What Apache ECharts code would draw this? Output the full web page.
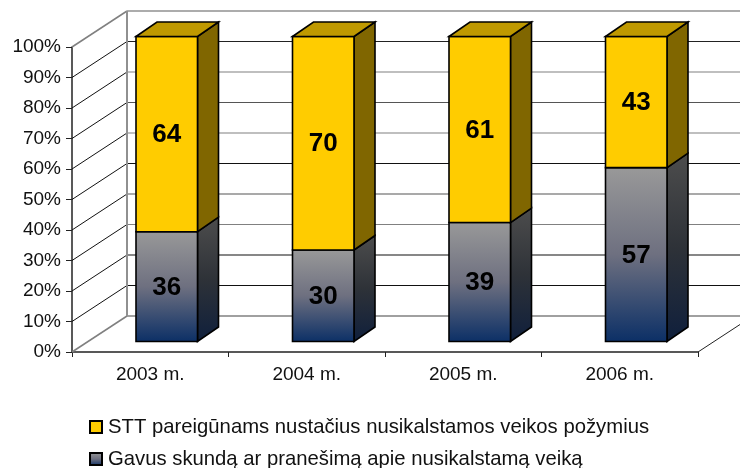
<!DOCTYPE html>
<html>
<head>
<meta charset="utf-8">
<style>html,body{margin:0;padding:0;background:#fff}#c{width:740px;height:468px}</style>
<script src="https://cdn.jsdelivr.net/npm/echarts@6/dist/echarts.min.js"></script>
</head>
<body>
<div id="c"></div>
<script>
const categories = ['2003 m.', '2004 m.', '2005 m.', '2006 m.'];
const complaints = [36, 30, 39, 57];
const officers = [64, 70, 61, 43];
const yTicks = [0, 10, 20, 30, 40, 50, 60, 70, 80, 90, 100];
const wallLineColors = ['#808080', '#111111', '#111111', '#808080', '#555555', '#111111', '#808080', '#555555', '#808080', '#222222', '#909090'];
const nameOfficers = 'STT pareigūnams nustačius nusikalstamos veikos požymius';
const nameComplaints = 'Gavus skundą ar pranešimą apie nusikalstamą veiką';

const font = '"Liberation Sans", Arial, sans-serif';
const WALL_DX = 55, WALL_DY = -36;
const BAR_DX = 16.5, BAR_DY = -10.5, BAR_W = 61.5, SIDE_DX = 21, SIDE_DY = -14.5;

const grad = (a, m, b) => ({ type: 'linear', x: 0, y: 0, x2: 0, y2: 1, colorStops: [{ offset: 0, color: a }, { offset: 0.5, color: m }, { offset: 1, color: b }] });
const outline = { stroke: '#000', lineWidth: 1.6, lineJoin: 'miter' };

function barRender(front, side, top) {
  return function (params, api) {
    const i = api.value(0), lo = api.value(1), hi = api.value(2);
    const pLo = api.coord([i, lo]), pHi = api.coord([i, hi]);
    const x0 = pLo[0] + BAR_DX - BAR_W / 2, x1 = x0 + BAR_W;
    const yB = pLo[1] + BAR_DY, yT = pHi[1] + BAR_DY;
    const children = [
      { type: 'polygon', shape: { points: [[x1, yT], [x1 + SIDE_DX, yT + SIDE_DY], [x1 + SIDE_DX, yB + SIDE_DY], [x1, yB]] }, style: Object.assign({ fill: side }, outline) },
      { type: 'rect', shape: { x: x0, y: yT, width: BAR_W, height: yB - yT }, style: Object.assign({ fill: front }, outline) }
    ];
    if (top) {
      children.push({ type: 'polygon', shape: { points: [[x0, yT], [x0 + SIDE_DX, yT + SIDE_DY], [x1 + SIDE_DX, yT + SIDE_DY], [x1, yT]] }, style: Object.assign({ fill: top }, outline) });
    }
    children.push({
      type: 'text',
      style: { x: (x0 + x1) / 2, y: (yT + yB) / 2 + 1, text: String(hi - lo), align: 'center', verticalAlign: 'middle', fill: '#000', font: 'bold 26px ' + font }
    });
    return { type: 'group', children: children };
  };
}

function wallRender(params, api) {
  const v = api.value(1);
  const p = api.coord([0, v]);
  const c = params.coordSys;
  const xF = c.x, yF = p[1], xB = xF + WALL_DX, yB = yF + WALL_DY;
  const col = wallLineColors[params.dataIndex];
  const edge = v === 0 || v === 100;
  return {
    type: 'group',
    children: [
      { type: 'line', shape: { x1: xF, y1: yF, x2: xB, y2: yB }, style: { stroke: edge ? '#808080' : '#111', lineWidth: edge ? 1.5 : 1 } },
      { type: 'line', shape: { x1: xB, y1: yB, x2: 760, y2: yB }, style: { stroke: col, lineWidth: edge ? 1.6 : 1.2 } }
    ]
  };
}

function frameRender(params, api) {
  const c = params.coordSys;
  const yTop = api.coord([0, 100])[1], yBot = api.coord([0, 0])[1];
  const xB = c.x + WALL_DX, xR = c.x + c.width;
  return {
    type: 'group',
    children: [
      { type: 'line', shape: { x1: xB, y1: yTop + WALL_DY, x2: xB, y2: yBot + WALL_DY }, style: { stroke: '#909090', lineWidth: 2 } },
      { type: 'line', shape: { x1: xR, y1: yBot, x2: xR + WALL_DX, y2: yBot + WALL_DY }, style: { stroke: '#222', lineWidth: 1 } }
    ]
  };
}

const chart = echarts.init(document.getElementById('c'), null, { renderer: 'canvas' });
chart.setOption({
  animation: false,
  backgroundColor: '#fff',
  grid: { left: 72, right: 42, top: 47, bottom: 116, containLabel: false },
  legend: {
    orient: 'vertical', left: 84, top: 412, height: 70, itemWidth: 12, itemHeight: 12, itemGap: 12,
    data: [{ name: nameOfficers, icon: 'rect' }, { name: nameComplaints, icon: 'rect' }],
    textStyle: { fontFamily: font, fontSize: 20.3, color: '#111', padding: [0, 0, 0, 1] },
    selectedMode: false
  },
  xAxis: {
    type: 'category', data: categories,
    axisLine: { lineStyle: { color: '#222', width: 1.5 } },
    axisTick: { show: true, length: 5, lineStyle: { color: '#222' } },
    axisLabel: { fontFamily: font, fontSize: 19, color: '#111', margin: 13 },
    splitLine: { show: false }
  },
  yAxis: {
    type: 'value', min: 0, max: 100, interval: 10,
    axisLine: { show: true, lineStyle: { color: '#222', width: 1.5 } },
    axisTick: { show: true, length: 6, lineStyle: { color: '#222' } },
    axisLabel: { fontFamily: font, fontSize: 19, color: '#111', margin: 11, formatter: '{value}%' },
    splitLine: { show: false }
  },
  series: [
    { type: 'custom', name: 'wall', z: 1, silent: true, encode: { x: 0, y: 1 }, data: yTicks.map(t => [0, t]), renderItem: wallRender },
    { type: 'custom', name: 'frame', z: 1, silent: true, encode: { x: 0, y: 1 }, data: [[0, 0]], renderItem: frameRender },
    {
      type: 'custom', name: nameComplaints, z: 3, silent: true,
      encode: { x: 0, y: [1, 2] },
      itemStyle: { color: grad('#999999', '#6e7080', '#0b2f66'), borderColor: '#000', borderWidth: 1.5 },
      data: complaints.map((v, i) => [i, 0, v]),
      renderItem: barRender(grad('#999999', '#6e7080', '#0b2f66'), grad('#4d4d4d', '#2e3238', '#0f1f3c'), null)
    },
    {
      type: 'custom', name: nameOfficers, z: 4, silent: true,
      encode: { x: 0, y: [1, 2] },
      itemStyle: { color: '#ffcc00', borderColor: '#000', borderWidth: 1.5 },
      data: officers.map((v, i) => [i, complaints[i], complaints[i] + v]),
      renderItem: barRender('#ffcc00', '#806600', '#bf9900')
    }
  ]
});
</script>
</body>
</html>
